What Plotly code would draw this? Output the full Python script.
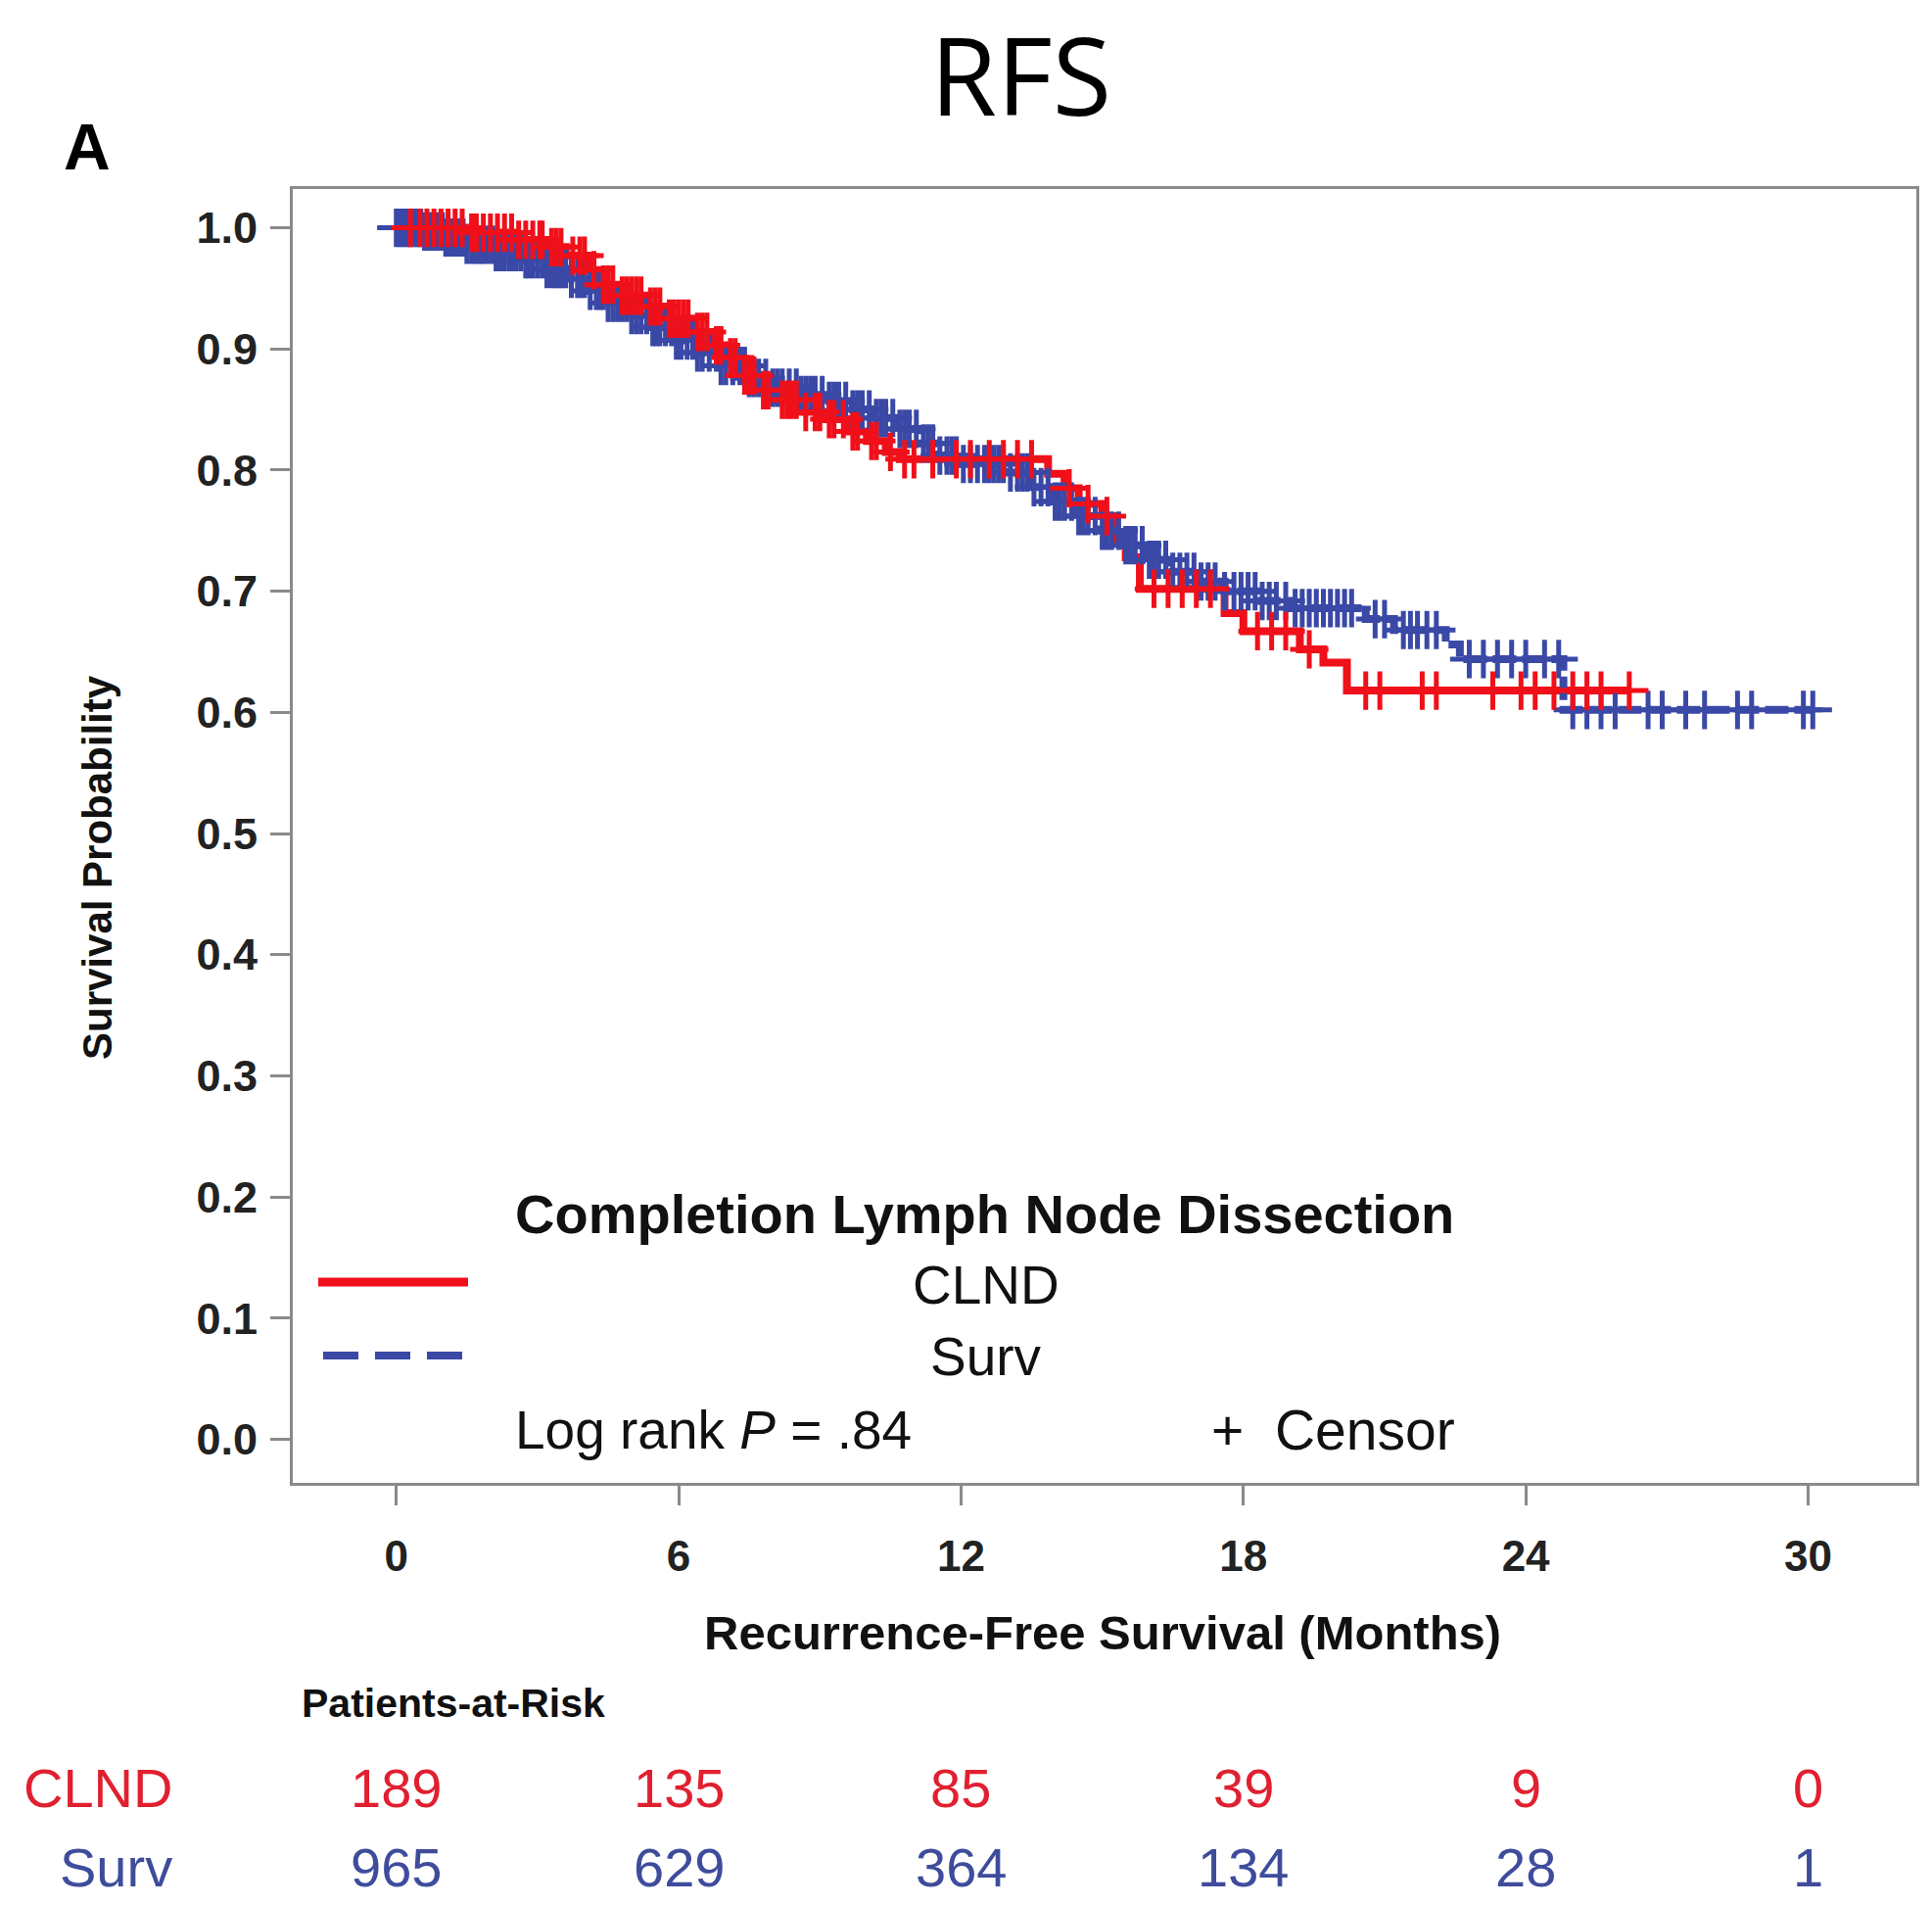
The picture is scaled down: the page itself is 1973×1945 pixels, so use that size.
import plotly.graph_objects as go

# ---------------- data ----------------
clnd_time = [0.0, 1.5, 2.5, 3.2, 3.6, 4.1, 4.3, 4.7, 5.3, 5.7, 6.3, 6.7, 7.0, 7.3, 7.7, 8.1,
             8.6, 9.1, 9.6, 10.0, 10.4, 10.7, 13.85, 14.2, 14.5, 15.0, 15.3, 15.5, 15.8, 17.6,
             18.0, 19.2, 19.7, 20.2]
clnd_surv = [1.0, 0.996, 0.99, 0.984, 0.977, 0.965, 0.953, 0.944, 0.935, 0.925, 0.914, 0.903,
             0.893, 0.878, 0.866, 0.858, 0.848, 0.842, 0.832, 0.824, 0.815, 0.809, 0.797, 0.785,
             0.772, 0.762, 0.742, 0.728, 0.702, 0.682, 0.667, 0.652, 0.641, 0.618]
clnd_end = 26.2
clnd_censor = [0.3, 0.5, 0.65, 0.8, 0.95, 1.1, 1.25, 1.4, 1.6, 1.7, 1.85, 2.0, 2.15, 2.3, 2.45,
               2.6, 2.75, 2.9, 3.05, 3.1, 3.3, 3.4, 3.5, 3.75, 3.9, 4.0, 4.2, 4.4, 4.5, 4.6,
               4.8, 4.9, 5.0, 5.1, 5.2, 5.4, 5.5, 5.6, 5.8, 5.9, 6.0, 6.1, 6.2, 6.4, 6.5, 6.6,
               6.8, 6.9, 7.1, 7.2, 7.4, 7.5, 7.6, 7.8, 7.9, 8.2, 8.3, 8.4, 8.5, 8.7, 8.9, 9.0,
               9.2, 9.3, 9.5, 9.7, 9.8, 10.1, 10.2, 10.5, 10.8, 11.0, 11.4, 11.9, 12.2, 12.6,
               12.9, 13.2, 13.5, 14.3, 14.7, 15.1, 16.1, 16.4, 16.7, 17.0, 17.3, 18.3, 18.6,
               18.9, 19.4, 20.6, 20.9, 21.8, 22.1, 23.3, 23.9, 24.2, 24.6, 25.0, 25.3, 25.6,
               26.2]

surv_time = [0.0, 0.6, 1.0, 1.5, 2.1, 2.7, 3.2, 3.7, 4.1, 4.5, 5.0, 5.4, 5.9, 6.4, 6.9, 7.5,
             8.0, 8.6, 9.2, 9.7, 10.1, 10.6, 11.1, 11.5, 12.0, 13.0, 13.5, 13.9, 14.4, 14.9,
             15.4, 15.9, 16.4, 17.0, 17.6, 18.3, 19.0, 20.6, 21.2, 22.3, 22.6, 24.8]
surv_surv = [1.0, 0.997, 0.992, 0.986, 0.98, 0.974, 0.966, 0.958, 0.948, 0.938, 0.928, 0.918,
             0.907, 0.897, 0.886, 0.876, 0.868, 0.862, 0.857, 0.85, 0.843, 0.834, 0.822, 0.812,
             0.805, 0.798, 0.786, 0.774, 0.762, 0.75, 0.738, 0.726, 0.716, 0.708, 0.7, 0.692,
             0.686, 0.677, 0.668, 0.656, 0.644, 0.602]
surv_end = 30.1
surv_censor = [0.0, 0.08, 0.15, 0.22, 0.3, 0.38, 0.45, 0.52, 0.6, 0.68, 0.75, 0.83, 0.9, 0.98,
               1.05, 1.12, 1.2, 1.28, 1.35, 1.42, 1.5, 1.6, 1.7, 1.78, 1.85, 1.95, 2.05, 2.12,
               2.2, 2.3, 2.4, 2.48, 2.55, 2.65, 2.75, 2.82, 2.9, 3.0, 3.1, 3.2, 3.3, 3.38, 3.45,
               3.52, 3.6, 3.72, 3.85, 3.92, 4.0, 4.12, 4.25, 4.33, 4.4, 4.5, 4.6, 4.7, 4.8,
               4.9, 5.0, 5.1, 5.2, 5.32, 5.45, 5.52, 5.6, 5.72, 5.85, 5.95, 6.05, 6.18, 6.3,
               6.4, 6.5, 6.65, 6.8, 6.9, 7.0, 7.15, 7.3, 7.4, 7.5, 7.6, 7.7, 7.85, 8.0, 8.1,
               8.2, 8.35, 8.5, 8.6, 8.7, 8.8, 8.9, 9.05, 9.2, 9.3, 9.4, 9.55, 9.7, 9.8, 9.9,
               10.05, 10.2, 10.3, 10.4, 10.55, 10.7, 10.8, 10.9, 11.05, 11.2, 11.3, 11.4, 11.55,
               11.7, 11.8, 11.9, 12.05, 12.2, 12.35, 12.5, 12.6, 12.7, 12.8, 12.9, 13.05, 13.2,
               13.3, 13.4, 13.55, 13.7, 13.85, 14.0, 14.1, 14.2, 14.35, 14.5, 14.6, 14.7, 14.85,
               15.0, 15.1, 15.2, 15.35, 15.5, 15.6, 15.7, 15.85, 16.0, 16.1, 16.2, 16.35, 16.5,
               16.65, 16.8, 16.95, 17.1, 17.25, 17.4, 17.6, 17.8, 17.95, 18.1, 18.25, 18.4,
               18.55, 18.7, 18.9, 19.1, 19.25, 19.4, 19.55, 19.7, 19.85, 20.0, 20.15, 20.3,
               20.8, 21.0, 21.4, 21.55, 21.7, 21.9, 22.1, 22.8, 23.1, 23.4, 23.7, 24.0, 24.4,
               24.7, 25.0, 25.3, 25.6, 25.9, 26.6, 26.9, 27.4, 27.8, 28.5, 28.8, 29.9, 30.1]

x_ticks = [0, 6, 12, 18, 24, 30]
y_ticks = [0.0, 0.1, 0.2, 0.3, 0.4, 0.5, 0.6, 0.7, 0.8, 0.9, 1.0]
groups = ["CLND", "Surv"]
risk_clnd = [189, 135, 85, 39, 9, 0]
risk_surv = [965, 629, 364, 134, 28, 1]

RED = "#f0101a"
BLUE = "#3a48a6"
RED_TXT = "#e02030"
BLUE_TXT = "#3f4c9c"
GRAY = "#8a8a8a"
FONT = "Liberation Sans, Arial, sans-serif"

W, H = 1973, 1945
L, R, T, B = 299, 1957, 193, 1514


def px_x(p):
    return (p - L) / (R - L)


def px_y(p):
    return (B - p) / (B - T)


def surv_at(times, vals, t):
    s = vals[0]
    for ti, vi in zip(times, vals):
        if ti <= t:
            s = vi
    return s


fig = go.Figure()

# step lines
fig.add_trace(go.Scatter(x=clnd_time + [clnd_end], y=clnd_surv + [clnd_surv[-1]],
                         mode="lines", line=dict(color=RED, width=8, shape="hv"),
                         showlegend=False, hoverinfo="skip"))
fig.add_trace(go.Scatter(x=surv_time + [surv_end], y=surv_surv + [surv_surv[-1]],
                         mode="lines", line=dict(color=BLUE, width=8, shape="hv", dash="24px,6px"),
                         showlegend=False, hoverinfo="skip"))
# censor marks
fig.add_trace(go.Scatter(x=surv_censor, y=[surv_at(surv_time, surv_surv, t) for t in surv_censor],
                         mode="markers",
                         marker=dict(symbol="cross-thin", size=28, line=dict(color=BLUE, width=5)),
                         showlegend=False, hoverinfo="skip"))
fig.add_trace(go.Scatter(x=clnd_censor, y=[surv_at(clnd_time, clnd_surv, t) for t in clnd_censor],
                         mode="markers",
                         marker=dict(symbol="cross-thin", size=28, line=dict(color=RED, width=5)),
                         showlegend=False, hoverinfo="skip"))

ann = []
# title and panel label
ann.append(dict(text="RFS", x=px_x(1042), y=px_y(75), xref="paper", yref="paper",
                showarrow=False, font=dict(family="Open Sans", size=110, color="#000"),
                xanchor="center", yanchor="middle"))
ann.append(dict(text="<b>A</b>", x=px_x(89), y=px_y(150), xref="paper", yref="paper",
                showarrow=False, font=dict(family=FONT, size=66, color="#000"),
                xanchor="center", yanchor="middle"))
# axis titles
ann.append(dict(text="<b>Survival Probability</b>", x=px_x(100), y=px_y(886), xref="paper",
                yref="paper", showarrow=False, textangle=-90,
                font=dict(family=FONT, size=42, color="#111"), xanchor="center", yanchor="middle"))
ann.append(dict(text="<b>Recurrence-Free Survival (Months)</b>", x=px_x(1126), y=px_y(1667),
                xref="paper", yref="paper", showarrow=False,
                font=dict(family=FONT, size=49, color="#111"), xanchor="center", yanchor="middle"))
# legend texts
ann.append(dict(text="<b>Completion Lymph Node Dissection</b>", x=px_x(524), y=px_y(1239),
                xref="paper", yref="paper", showarrow=False,
                font=dict(family=FONT, size=56, color="#111"), xanchor="left", yanchor="middle"))
ann.append(dict(text=groups[0], x=px_x(1007), y=px_y(1312), xref="paper", yref="paper",
                showarrow=False, font=dict(family=FONT, size=55, color="#111"),
                xanchor="center", yanchor="middle"))
ann.append(dict(text=groups[1], x=px_x(1007), y=px_y(1385), xref="paper", yref="paper",
                showarrow=False, font=dict(family=FONT, size=55, color="#111"),
                xanchor="center", yanchor="middle"))
ann.append(dict(text="Log rank <i>P</i> = .84", x=px_x(524), y=px_y(1460), xref="paper",
                yref="paper", showarrow=False, font=dict(family=FONT, size=55, color="#111"),
                xanchor="left", yanchor="middle"))
ann.append(dict(text="+  Censor", x=px_x(1235), y=px_y(1460), xref="paper", yref="paper",
                showarrow=False, font=dict(family=FONT, size=57, color="#111"),
                xanchor="left", yanchor="middle"))
# at-risk table
ann.append(dict(text="<b>Patients-at-Risk</b>", x=px_x(306), y=px_y(1739), xref="paper",
                yref="paper", showarrow=False, font=dict(family=FONT, size=41, color="#111"),
                xanchor="left", yanchor="middle"))
ann.append(dict(text=groups[0], x=px_x(178), y=px_y(1825), xref="paper", yref="paper",
                showarrow=False, font=dict(family=FONT, size=56, color=RED_TXT),
                xanchor="right", yanchor="middle"))
ann.append(dict(text=groups[1], x=px_x(178), y=px_y(1906), xref="paper", yref="paper",
                showarrow=False, font=dict(family=FONT, size=56, color=BLUE_TXT),
                xanchor="right", yanchor="middle"))
for xt, n in zip(x_ticks, risk_clnd):
    ann.append(dict(text=str(n), x=xt, y=px_y(1825), xref="x", yref="paper", showarrow=False,
                    font=dict(family=FONT, size=56, color=RED_TXT), xanchor="center",
                    yanchor="middle"))
for xt, n in zip(x_ticks, risk_surv):
    ann.append(dict(text=str(n), x=xt, y=px_y(1906), xref="x", yref="paper", showarrow=False,
                    font=dict(family=FONT, size=56, color=BLUE_TXT), xanchor="center",
                    yanchor="middle"))

shapes = [
    dict(type="line", xref="paper", yref="paper", x0=px_x(325), x1=px_x(478),
         y0=px_y(1309), y1=px_y(1309), line=dict(color=RED, width=9)),
    dict(type="line", xref="paper", yref="paper", x0=px_x(330), x1=px_x(474),
         y0=px_y(1384), y1=px_y(1384), line=dict(color=BLUE, width=8, dash="36px,17px")),
]

fig.update_layout(
    width=W, height=H,
    margin=dict(l=L, r=W - R, t=T, b=H - B, pad=0),
    paper_bgcolor="white", plot_bgcolor="white",
    annotations=ann, shapes=shapes, showlegend=False,
    xaxis=dict(range=[-2.2, 32.3], tickvals=x_ticks, ticktext=[str(v) for v in x_ticks],
               showgrid=False, zeroline=False, showline=True, mirror=True, linecolor=GRAY,
               linewidth=3, ticks="outside", ticklen=20, tickwidth=3, tickcolor=GRAY,
               ticklabelstandoff=14,
               tickfont=dict(family=FONT, size=44, color="#222", weight="bold")),
    yaxis=dict(range=[-0.036, 1.032], tickvals=y_ticks,
               ticktext=["%.1f" % v for v in y_ticks],
               showgrid=False, zeroline=False, showline=True, mirror=True, linecolor=GRAY,
               linewidth=3, ticks="outside", ticklen=20, tickwidth=3, tickcolor=GRAY,
               ticklabelstandoff=4,
               tickfont=dict(family=FONT, size=45, color="#222", weight="bold")),
)

fig.write_html("out.html")
